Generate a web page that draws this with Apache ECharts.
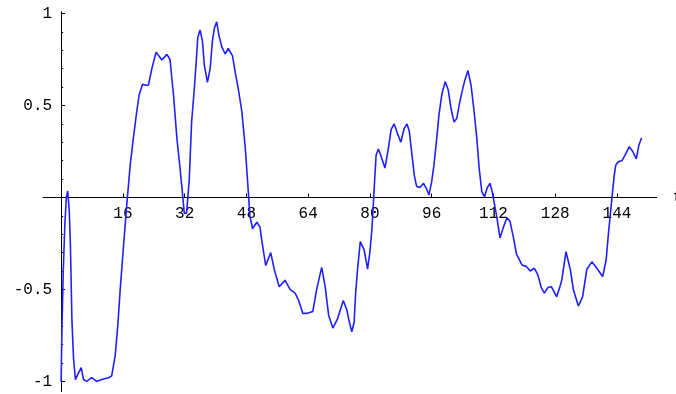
<!DOCTYPE html>
<html>
<head>
<meta charset="utf-8">
<script src="https://cdn.jsdelivr.net/npm/echarts@6/dist/echarts.min.js"></script>
<style>
  html, body { margin: 0; padding: 0; background: #ffffff; }
  #chart { width: 676px; height: 394px; }
</style>
</head>
<body>
<div id="chart"></div>
<script>
// Sample times t and signal values f(t)
const times = [
  0, 0.2, 0.55, 0.95, 1.35, 1.7, 2.1, 2.4, 2.8, 3.2, 3.7, 4.2, 4.6, 5.2, 5.8, 6.6,
  7.9, 9.2, 10.5, 12.3, 13.1, 14.0, 14.7, 15.3, 16.1, 17.0, 17.9, 18.7, 19.6, 20.2,
  21.1, 21.9, 22.6, 23.5, 24.6, 26.1, 27.4, 28.2, 29.1, 30.0, 30.8, 31.4, 31.9, 32.5,
  33.2, 33.8, 34.5, 35.0, 35.4, 36.0, 36.6, 37.1, 37.9, 38.6, 39.2, 39.7, 40.3, 40.9,
  41.6, 42.5, 43.3, 44.4, 45.1, 45.9, 46.8, 47.7, 48.5, 48.9, 49.6, 50.7, 51.5, 52.1,
  53.0, 54.3, 55.2, 56.5, 58.0, 59.3, 60.6, 61.5, 62.6, 63.8, 65.2, 66.2, 67.5, 68.4,
  69.3, 70.4, 71.6, 73.1, 74.0, 74.7, 75.3, 75.9, 76.3, 76.8, 77.5, 78.5, 79.4, 80.0,
  80.5, 80.9, 81.3, 81.6, 82.2, 83.1, 83.9, 84.8, 85.5, 86.3, 87.1, 88.0, 88.9, 89.6,
  90.2, 90.9, 91.5, 92.1, 93.0, 93.9, 94.6, 95.3, 96.0, 96.6, 97.3, 97.9, 98.6, 99.5,
  100.3, 101.0, 101.8, 102.5, 103.2, 103.8, 104.5, 105.4, 106.2, 107.0, 107.7, 108.3,
  109.0, 109.7, 110.4, 111.1, 111.7, 112.3, 112.9, 113.7, 114.6, 115.5, 116.3, 117.2,
  118.0, 119.4, 120.6, 121.5, 122.6, 123.5, 124.4, 125.2, 126.1, 127.0, 128.4, 129.3,
  129.7, 130.8, 131.9, 132.7, 134.0, 135.1, 136.2, 137.5, 138.8, 140.3, 141.2, 141.8,
  142.4, 142.9, 143.3, 143.7, 144.4, 145.3, 146.1, 147.2, 148.1, 149.0, 149.7, 150.4
];
const values = [
  -1.0, -0.72, -0.40, -0.15, 0.0, 0.035, -0.07, -0.26, -0.67, -0.87, -0.99, -0.99, -0.95, -0.925, -0.99, -1.0,
  -0.98, -1.0, -0.99, -0.98, -0.97, -0.86, -0.69, -0.50, -0.28, -0.04, 0.177, 0.32, 0.47, 0.557,
  0.615, 0.61, 0.61, 0.70, 0.79, 0.747, 0.778, 0.75, 0.56, 0.32, 0.16, 0.03, -0.085, -0.085,
  0.10, 0.41, 0.59, 0.74, 0.87, 0.91, 0.85, 0.72, 0.626, 0.70, 0.85, 0.92, 0.955, 0.88,
  0.82, 0.78, 0.81, 0.77, 0.68, 0.59, 0.47, 0.27, 0.03, -0.10, -0.17, -0.135, -0.16, -0.25,
  -0.37, -0.30, -0.39, -0.485, -0.45, -0.50, -0.52, -0.557, -0.63, -0.63, -0.62, -0.50, -0.38, -0.485,
  -0.64, -0.71, -0.66, -0.56, -0.61, -0.68, -0.73, -0.68, -0.52, -0.39, -0.24, -0.285, -0.39, -0.295,
  -0.177, -0.03, 0.12, 0.23, 0.264, 0.21, 0.16, 0.27, 0.37, 0.40, 0.35, 0.30, 0.376, 0.40,
  0.36, 0.23, 0.12, 0.06, 0.055, 0.077, 0.05, 0.014, 0.086, 0.177, 0.32, 0.45, 0.557, 0.63,
  0.584, 0.485, 0.41, 0.43, 0.51, 0.57, 0.63, 0.69, 0.61, 0.466, 0.32, 0.16,
  0.03, 0.004, 0.053, 0.077, 0.03, -0.04, -0.11, -0.22, -0.16, -0.11, -0.13, -0.22,
  -0.31, -0.367, -0.376, -0.40, -0.385, -0.42, -0.49, -0.52, -0.49, -0.485, -0.54, -0.48,
  -0.45, -0.295, -0.39, -0.50, -0.59, -0.54, -0.39, -0.35, -0.385, -0.43, -0.34, -0.195,
  -0.068, 0.04, 0.12, 0.177, 0.195, 0.20, 0.23, 0.276, 0.25, 0.21, 0.285, 0.325
];

// Axis ticks and labels
const xTicks = [16, 32, 48, 64, 80, 96, 112, 128, 144];
const yTicks = [-1, -0.5, 0.5, 1];
const yMinorTicks = [-0.9, -0.8, -0.7, -0.6, -0.4, -0.3, -0.2, -0.1, 0.1, 0.2, 0.3, 0.4, 0.6, 0.7, 0.8, 0.9];

const points = times.map((t, i) => [t, values[i]]);

const FONT = "'Liberation Mono', 'Courier New', monospace";
const axisBlack = { color: '#000000', width: 1 };

// Plot area and axis ranges
const W = 676, H = 394;
const GRID = { left: 43, right: 19.3, top: 11.7, bottom: 2.3 };
const X_MIN = -4.7, X_MAX = 154.3;
const Y_MIN = -1.056, Y_MAX = 1.01;
const gridW = W - GRID.left - GRID.right;
const gridH = H - GRID.top - GRID.bottom;
// Shift the axes so they cross at the origin (t = 0, f = 0)
const xAxisOffset = -gridH * (0 - Y_MIN) / (Y_MAX - Y_MIN);
const yAxisOffset = -gridW * (0 - X_MIN) / (X_MAX - X_MIN);

const chart = echarts.init(document.getElementById('chart'), null, { renderer: 'canvas' });
chart.setOption({
  backgroundColor: '#ffffff',
  animation: false,
  grid: Object.assign({ outerBoundsMode: 'none' }, GRID),
  xAxis: {
    type: 'value',
    position: 'bottom',
    offset: xAxisOffset,
    min: X_MIN,
    max: X_MAX,
    name: 't',
    nameLocation: 'end',
    nameGap: 16,
    nameTextStyle: { fontFamily: FONT, fontSize: 16, color: '#000' },
    axisLine: { show: true, onZero: false, lineStyle: axisBlack },
    axisTick: { show: true, inside: true, length: 4, customValues: xTicks, lineStyle: axisBlack },
    axisLabel: {
      show: true, customValues: xTicks, margin: 8, hideOverlap: false,
      fontFamily: FONT, fontSize: 16, color: '#000',
      formatter: v => String(v)
    },
    splitLine: { show: false }
  },
  yAxis: [
    {
      type: 'value',
      position: 'left',
      offset: yAxisOffset,
      min: Y_MIN,
      max: Y_MAX,
      axisLine: { show: true, onZero: false, lineStyle: axisBlack },
      axisTick: { show: true, inside: true, length: 4, customValues: yTicks, lineStyle: axisBlack },
      axisLabel: {
        show: true, customValues: yTicks, margin: 9,
        fontFamily: FONT, fontSize: 16, color: '#000',
        formatter: v => String(v)
      },
      splitLine: { show: false }
    },
    {
      type: 'value',
      position: 'left',
      offset: yAxisOffset,
      min: Y_MIN,
      max: Y_MAX,
      axisLine: { show: false, onZero: false },
      axisTick: { show: true, inside: true, length: 2, customValues: yMinorTicks, lineStyle: axisBlack },
      axisLabel: { show: false },
      splitLine: { show: false }
    }
  ],
  series: [{
    type: 'line',
    xAxisIndex: 0,
    yAxisIndex: 0,
    data: points,
    showSymbol: false,
    smooth: false,
    lineStyle: { color: '#2020ff', width: 1.6 },
    clip: true
  }]
});
</script>
</body>
</html>
